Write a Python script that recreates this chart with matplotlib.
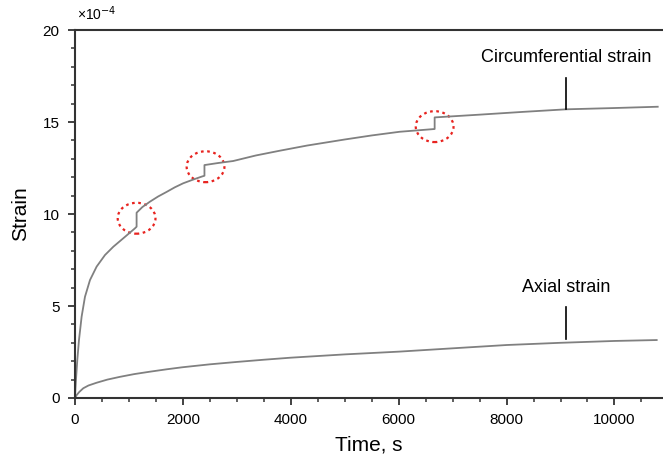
import matplotlib
matplotlib.use("Agg")
import matplotlib.pyplot as plt
from matplotlib.patches import Ellipse
from matplotlib.ticker import MultipleLocator

plt.rcParams['font.family'] = ['Liberation Sans', 'DejaVu Sans']

# circumferential strain (x1e-4), with the three jumps
circ_t = [0, 8, 18, 43, 74, 123, 185, 278, 401, 556, 710, 895, 1111, 1142,
          1142, 1250, 1389, 1540, 1698, 1850, 2006, 2180, 2346, 2400, 2400,
          2650, 2932, 3350, 3796, 4300, 5000, 5500, 6019, 6667, 6667, 7500,
          8300, 9105, 10000, 10802]
circ_v = [0, 0.5, 0.98, 2.07, 3.15, 4.42, 5.5, 6.41, 7.14, 7.77, 8.22, 8.68, 9.22,
          9.31, 10.07, 10.38, 10.67, 10.95, 11.2, 11.45, 11.67, 11.86, 12.03, 12.08,
          12.66, 12.77, 12.88, 13.18, 13.44, 13.72, 14.05, 14.27, 14.47, 14.62,
          15.25, 15.4, 15.55, 15.69, 15.76, 15.83]

# axial strain (x1e-4)
ax_t = [0, 31, 80, 154, 250, 401, 600, 833, 1100, 1389, 1700, 1989, 2500,
        3000, 3500, 3994, 5000, 6006, 7000, 8003, 9000, 10000, 10783]
ax_v = [0, 0.16, 0.33, 0.53, 0.68, 0.83, 1.0, 1.15, 1.3, 1.43, 1.56, 1.67, 1.83,
        1.96, 2.08, 2.19, 2.37, 2.52, 2.7, 2.88, 3.0, 3.1, 3.15]

# dashed circles around the jumps: (t, strain)
jump_t = [1142, 2420, 6667]
jump_v = [9.77, 12.57, 14.75]

fig = plt.figure(figsize=(6.63, 4.59), dpi=100)
ax = fig.add_axes([0.1131, 0.1329, 0.8869, 0.8017])

ax.plot(circ_t, circ_v, color='#808080', lw=1.3)
ax.plot(ax_t, ax_v, color='#808080', lw=1.3)

for t, v in zip(jump_t, jump_v):
    ax.add_patch(Ellipse((t, v), 700, 1.68, fill=False, edgecolor='#e8231f',
                         ls=(0, (1.2, 1.6)), lw=1.6))

# labels with leader lines
ax.text(9111, 18.5, 'Circumferential strain', ha='center', va='center', fontsize=13)
ax.plot([9111, 9111], [15.72, 17.4], color='black', lw=1.2)
ax.text(9111, 6.03, 'Axial strain', ha='center', va='center', fontsize=13)
ax.plot([9111, 9111], [3.22, 4.96], color='black', lw=1.2)

ax.set_xlim(0, 10900)
ax.set_ylim(0, 20)
ax.xaxis.set_major_locator(MultipleLocator(2000))
ax.xaxis.set_minor_locator(MultipleLocator(500))
ax.yaxis.set_major_locator(MultipleLocator(5))
ax.yaxis.set_minor_locator(MultipleLocator(1))

for s in ['left', 'bottom', 'top']:
    ax.spines[s].set_color('#333333')
    ax.spines[s].set_linewidth(1.5)
ax.spines['right'].set_visible(False)
ax.tick_params(which='major', direction='out', length=5, width=1.3, color='#333333',
               labelsize=11, pad=6)
ax.tick_params(which='minor', direction='out', length=3, width=1.1, color='#333333')
ax.tick_params(top=False, right=False, which='both')

ax.text(0.003, 1.018, '×10$^{-4}$', transform=ax.transAxes, fontsize=10,
        ha='left', va='bottom')

ax.set_xlabel('Time, s', fontsize=15, labelpad=6)
ax.set_ylabel('Strain', fontsize=15, labelpad=9)

fig.savefig('out.png', dpi=100)
